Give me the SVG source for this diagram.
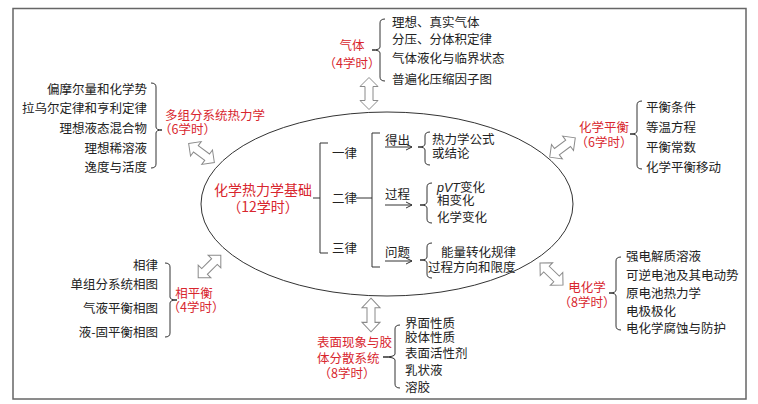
<svg xmlns="http://www.w3.org/2000/svg" width="758" height="404" viewBox="0 0 758 404">
<style>
text{font-family:"Noto Sans CJK SC","Noto Sans",sans-serif;font-size:12.5px;fill:#222}
.r{fill:#d8262e}
.big{font-size:14px}
.m{text-anchor:middle}
.e{text-anchor:end}
.br{fill:none;stroke:#333;stroke-width:1}
.da{fill:#fff;stroke:#8a8a8a;stroke-width:1}
.ar{fill:none;stroke:#333;stroke-width:1}
</style>
<defs>
<path id="dbl" d="M-16,0 L-7,-9 L-7,-4 L7,-4 L7,-9 L16,0 L7,9 L7,4 L-7,4 L-7,9 Z"/>
<marker id="ah" markerWidth="8" markerHeight="8" refX="7" refY="4" orient="auto" markerUnits="userSpaceOnUse">
<path d="M1,1 L7,4 L1,7" fill="none" stroke="#333" stroke-width="1"/>
</marker>
</defs>
<rect x="13" y="8.5" width="733" height="390.5" fill="#fff" stroke="#666" stroke-width="1.5"/>

<g id="connectors">
<use href="#dbl" class="da" transform="translate(369,93.5) rotate(90)"/>
<use href="#dbl" class="da" transform="translate(371,315) rotate(90) scale(1.05,1)"/>
<use href="#dbl" class="da" transform="translate(201.5,153) rotate(36.5)"/>
<use href="#dbl" class="da" transform="translate(209.5,266.5) rotate(-45)"/>
<use href="#dbl" class="da" transform="translate(562.5,147.5) rotate(-37)"/>
<use href="#dbl" class="da" transform="translate(551.5,274) rotate(44)"/>
</g>

<g id="core">
<ellipse cx="387" cy="204" rx="186" ry="92" fill="none" stroke="#333" stroke-width="1"/>
<text class="r big m" x="263" y="195">化学热力学基础</text>
<text class="r big m" x="263" y="212">（12学时）</text>
<path class="br" d="M313,198 H320 M328,143 H320 V253 H328"/>
<text x="332" y="158" font-size="13">一律</text>
<text x="332" y="203" font-size="13">二律</text>
<text x="332" y="253" font-size="13">三律</text>
<path class="br" d="M356,198 H372 M380,133 H372 V267 H380"/>
<text x="385" y="145">得出</text>
<line class="ar" x1="385" y1="147" x2="412" y2="147" marker-end="url(#ah)"/>
<text x="385" y="199">过程</text>
<line class="ar" x1="385" y1="205" x2="412" y2="205" marker-end="url(#ah)"/>
<text x="385" y="257">问题</text>
<line class="ar" x1="385" y1="261" x2="412" y2="261" marker-end="url(#ah)"/>
<path class="br" d="M430,132 Q425,132 425,136 V144 Q425,147 418,147 Q425,147 425,150 V161 Q425,165 430,165"/>
<text x="432" y="144">热力学公式</text>
<text x="432" y="158">或结论</text>
<path class="br" d="M432,183 Q427,183 427,187 V202 Q427,205 420,205 Q427,205 427,208 V219 Q427,223 432,223"/>
<text x="437" y="192"><tspan font-style="italic" font-family="Liberation Sans, sans-serif">pVT</tspan>变化</text>
<text x="437" y="205">相变化</text>
<text x="437" y="222">化学变化</text>
<path class="br" d="M432,243 Q427,243 427,247 V257 Q427,260 420,260 Q427,260 427,263 V274 Q427,278 432,278"/>
<text x="441" y="257">能量转化规律</text>
<text x="428" y="272">过程方向和限度</text>
</g>

<g id="gas">
<text class="r m" x="352" y="50">气体</text>
<text class="r m" x="352" y="68">（4学时）</text>
<path class="br" d="M385,19 Q380,19 380,23 V47 Q380,50 372,50 Q380,50 380,53 V77 Q380,81 385,81"/>
<text x="392" y="27">理想、真实气体</text>
<text x="392" y="44">分压、分体积定律</text>
<text x="392" y="63">气体液化与临界状态</text>
<text x="392" y="84">普遍化压缩因子图</text>
</g>

<g id="multi">
<text class="e" x="147" y="94">偏摩尔量和化学势</text>
<text class="e" x="147" y="113">拉乌尔定律和亨利定律</text>
<text class="e" x="147" y="133">理想液态混合物</text>
<text class="e" x="147" y="153">理想稀溶液</text>
<text class="e" x="147" y="172">逸度与活度</text>
<path class="br" d="M151,83 Q156,83 156,87 V127 Q156,130 162,130 Q156,130 156,133 V164 Q156,168 151,168"/>
<text class="r" x="165" y="120">多组分系统热力学</text>
<text class="r" x="159" y="134">（6学时）</text>
</g>

<g id="equil">
<text class="r m" x="604" y="132">化学平衡</text>
<text class="r m" x="604" y="147">（6学时）</text>
<path class="br" d="M642,101 Q637,101 637,105 V131 Q637,134 630,134 Q637,134 637,137 V165 Q637,169 642,169"/>
<text x="646" y="112">平衡条件</text>
<text x="646" y="132">等温方程</text>
<text x="646" y="152">平衡常数</text>
<text x="646" y="172">化学平衡移动</text>
</g>

<g id="phase">
<text class="e" x="158" y="270">相律</text>
<text class="e" x="158" y="289">单组分系统相图</text>
<text class="e" x="158" y="313">气液平衡相图</text>
<text class="e" x="158" y="337">液-固平衡相图</text>
<path class="br" d="M165,263 Q170,263 170,267 V297 Q170,300 177,300 Q170,300 170,303 V333 Q170,337 165,337"/>
<text class="r m" x="194" y="298">相平衡</text>
<text class="r m" x="196" y="312">（4学时）</text>
</g>

<g id="electro">
<text class="r m" x="587" y="292">电化学</text>
<text class="r m" x="587" y="307">（8学时）</text>
<path class="br" d="M621,257 Q616,257 616,261 V290 Q616,293 609,293 Q616,293 616,296 V326 Q616,330 621,330"/>
<text x="626" y="261">强电解质溶液</text>
<text x="626" y="280">可逆电池及其电动势</text>
<text x="626" y="298">原电池热力学</text>
<text x="626" y="316">电极极化</text>
<text x="626" y="333">电化学腐蚀与防护</text>
</g>

<g id="surface">
<text class="r" x="317" y="347">表面现象与胶</text>
<text class="r" x="317" y="363">体分散系统</text>
<text class="r m" x="347" y="378">（8学时）</text>
<path class="br" d="M400,325 Q395,325 395,329 V354 Q395,357 383,357 Q395,357 395,360 V384 Q395,388 400,388"/>
<text x="405" y="328">界面性质</text>
<text x="405" y="342">胶体性质</text>
<text x="405" y="358">表面活性剂</text>
<text x="405" y="375">乳状液</text>
<text x="405" y="392">溶胶</text>
</g>
</svg>
